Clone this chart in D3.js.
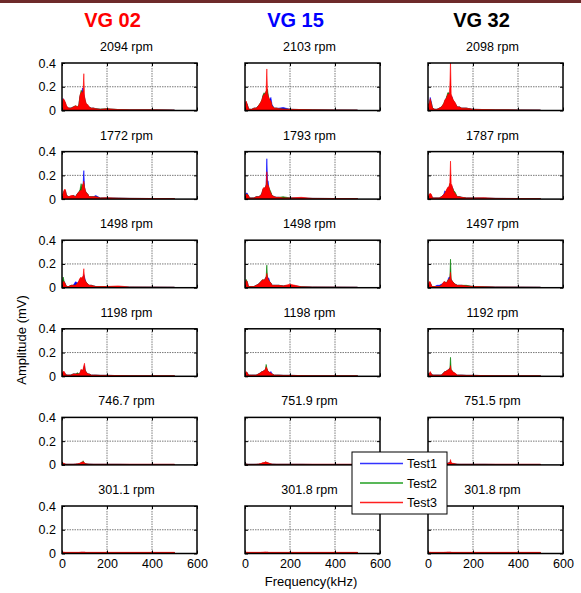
<!DOCTYPE html>
<html><head><meta charset="utf-8">
<script src="https://cdn.jsdelivr.net/npm/d3@7"></script>
<style>body{margin:0;background:#fff}svg{display:block;font-family:"Liberation Sans",Arial,sans-serif}</style>
</head><body>
<script>
// ---------- DATA ----------
const freq = [0,5,10,15,20,30,40,50,60,70,75,80,85,88,91,94,97,100,103,106,110,115,120,130,140,150,170,200,250,300,400,500];
const columns = ["VG 02","VG 15","VG 32"];
const rpmVG02 = ["2094 rpm","1772 rpm","1498 rpm","1198 rpm","746.7 rpm","301.1 rpm"];
const rpmVG15 = ["2103 rpm","1793 rpm","1498 rpm","1198 rpm","751.9 rpm","301.8 rpm"];
const rpmVG32 = ["2098 rpm","1787 rpm","1497 rpm","1192 rpm","751.5 rpm","301.8 rpm"];
const seriesNames = ["Test1","Test2","Test3"];
const xTicks = [0,200,400,600];
const yTicks = [0,0.2,0.4];

// VG 02
const vg02_2094_t1 = [0.03,0.10,0.08,0.06,0.03,0.02,0.02,0.03,0.03,0.03,0.04,0.12,0.14,0.15,0.19,0.15,0.14,0.11,0.08,0.06,0.05,0.04,0.03,0.02,0.02,0.015,0.01,0.012,0.008,0.006,0.006,0.004];
const vg02_2094_t2 = [0.03,0.09,0.08,0.06,0.03,0.02,0.02,0.03,0.04,0.03,0.05,0.12,0.17,0.16,0.15,0.14,0.13,0.11,0.08,0.06,0.05,0.04,0.03,0.02,0.02,0.015,0.012,0.015,0.008,0.006,0.006,0.004];
const vg02_2094_t3 = [0.03,0.10,0.09,0.07,0.04,0.02,0.02,0.03,0.04,0.03,0.05,0.13,0.15,0.16,0.14,0.17,0.31,0.12,0.09,0.07,0.05,0.05,0.03,0.02,0.02,0.015,0.01,0.015,0.008,0.006,0.006,0.004];
const vg02_1772_t1 = [0.04,0.04,0.07,0.07,0.03,0.02,0.02,0.03,0.02,0.05,0.06,0.07,0.08,0.08,0.11,0.13,0.24,0.10,0.07,0.06,0.05,0.04,0.02,0.02,0.02,0.03,0.01,0.01,0.008,0.006,0.005,0.004];
const vg02_1772_t2 = [0.03,0.04,0.07,0.07,0.03,0.02,0.02,0.03,0.02,0.05,0.06,0.08,0.13,0.10,0.11,0.12,0.13,0.10,0.07,0.06,0.05,0.04,0.02,0.02,0.02,0.02,0.01,0.01,0.008,0.006,0.005,0.004];
const vg02_1772_t3 = [0.03,0.05,0.08,0.08,0.03,0.02,0.03,0.03,0.02,0.05,0.06,0.07,0.07,0.08,0.12,0.13,0.15,0.10,0.08,0.06,0.05,0.04,0.02,0.02,0.02,0.02,0.01,0.012,0.008,0.006,0.005,0.004];
const vg02_1498_t1 = [0.03,0.04,0.05,0.03,0.01,0.01,0.02,0.02,0.05,0.04,0.05,0.07,0.08,0.07,0.08,0.09,0.11,0.09,0.07,0.05,0.04,0.03,0.02,0.02,0.015,0.01,0.01,0.01,0.008,0.006,0.005,0.004];
const vg02_1498_t2 = [0.03,0.09,0.05,0.03,0.01,0.01,0.02,0.02,0.02,0.04,0.05,0.07,0.08,0.07,0.08,0.09,0.10,0.07,0.06,0.05,0.04,0.03,0.02,0.02,0.015,0.01,0.01,0.01,0.008,0.006,0.005,0.004];
const vg02_1498_t3 = [0.03,0.05,0.05,0.03,0.01,0.01,0.02,0.02,0.02,0.04,0.06,0.08,0.09,0.07,0.09,0.10,0.16,0.08,0.06,0.05,0.04,0.03,0.02,0.02,0.015,0.01,0.01,0.01,0.015,0.006,0.005,0.004];
const vg02_1198_t1 = [0.02,0.03,0.03,0.02,0.01,0.01,0.01,0.02,0.02,0.02,0.02,0.03,0.05,0.04,0.05,0.05,0.07,0.09,0.05,0.04,0.03,0.02,0.02,0.01,0.01,0.01,0.008,0.008,0.006,0.005,0.004,0.004];
const vg02_1198_t2 = [0.02,0.03,0.03,0.02,0.01,0.01,0.01,0.02,0.02,0.03,0.02,0.03,0.05,0.05,0.05,0.05,0.07,0.08,0.05,0.04,0.03,0.02,0.02,0.01,0.01,0.01,0.008,0.008,0.006,0.005,0.004,0.004];
const vg02_1198_t3 = [0.03,0.04,0.04,0.02,0.01,0.01,0.01,0.02,0.02,0.02,0.02,0.03,0.06,0.05,0.05,0.06,0.09,0.11,0.05,0.04,0.03,0.02,0.02,0.01,0.01,0.01,0.008,0.008,0.006,0.005,0.004,0.004];
const vg02_747_t1 = [0.012,0.012,0.01,0.006,0.005,0.005,0.005,0.005,0.006,0.008,0.01,0.012,0.015,0.018,0.02,0.02,0.018,0.014,0.012,0.01,0.008,0.007,0.006,0.006,0.005,0.005,0.005,0.005,0.005,0.004,0.004,0.004];
const vg02_747_t2 = [0.012,0.012,0.01,0.006,0.005,0.005,0.005,0.005,0.006,0.008,0.01,0.012,0.018,0.02,0.022,0.035,0.02,0.015,0.012,0.01,0.008,0.007,0.006,0.006,0.005,0.005,0.005,0.005,0.005,0.004,0.004,0.004];
const vg02_747_t3 = [0.018,0.016,0.012,0.008,0.006,0.006,0.006,0.006,0.008,0.01,0.012,0.015,0.02,0.025,0.022,0.028,0.022,0.016,0.012,0.01,0.009,0.008,0.007,0.006,0.006,0.006,0.006,0.006,0.006,0.006,0.006,0.006];
const vg02_301_t1 = [0.008,0.008,0.008,0.008,0.008,0.008,0.008,0.008,0.008,0.008,0.008,0.008,0.009,0.009,0.009,0.009,0.009,0.009,0.008,0.008,0.008,0.008,0.008,0.008,0.008,0.008,0.008,0.008,0.008,0.008,0.008,0.008];
const vg02_301_t2 = [0.008,0.008,0.008,0.008,0.008,0.008,0.008,0.008,0.008,0.008,0.008,0.008,0.009,0.009,0.009,0.009,0.009,0.009,0.008,0.008,0.008,0.008,0.008,0.008,0.008,0.008,0.008,0.008,0.008,0.008,0.008,0.008];
const vg02_301_t3 = [0.012,0.012,0.011,0.01,0.01,0.01,0.01,0.01,0.01,0.01,0.01,0.011,0.012,0.012,0.012,0.012,0.012,0.012,0.011,0.01,0.01,0.01,0.01,0.01,0.01,0.01,0.01,0.01,0.01,0.01,0.01,0.01];

// VG 15
const vg15_2103_t1 = [0.03,0.07,0.05,0.02,0.01,0.01,0.02,0.02,0.04,0.06,0.08,0.12,0.14,0.13,0.14,0.15,0.16,0.15,0.12,0.10,0.09,0.11,0.05,0.02,0.02,0.02,0.025,0.01,0.008,0.006,0.005,0.004];
const vg15_2103_t2 = [0.03,0.07,0.05,0.02,0.01,0.01,0.02,0.02,0.04,0.07,0.09,0.13,0.15,0.14,0.15,0.16,0.17,0.18,0.13,0.10,0.08,0.07,0.04,0.02,0.02,0.015,0.012,0.01,0.008,0.006,0.005,0.004];
const vg15_2103_t3 = [0.03,0.08,0.05,0.02,0.01,0.01,0.02,0.02,0.04,0.07,0.09,0.12,0.14,0.13,0.15,0.17,0.35,0.15,0.12,0.11,0.09,0.08,0.04,0.02,0.02,0.015,0.012,0.01,0.008,0.006,0.005,0.004];
const vg15_1793_t1 = [0.03,0.05,0.05,0.03,0.01,0.01,0.01,0.02,0.02,0.03,0.05,0.08,0.09,0.09,0.10,0.12,0.34,0.16,0.15,0.09,0.06,0.05,0.03,0.02,0.015,0.015,0.01,0.01,0.008,0.006,0.005,0.004];
const vg15_1793_t2 = [0.02,0.04,0.04,0.03,0.01,0.01,0.01,0.02,0.02,0.03,0.05,0.08,0.09,0.09,0.10,0.11,0.15,0.12,0.11,0.10,0.08,0.06,0.03,0.02,0.015,0.015,0.02,0.01,0.008,0.006,0.005,0.004];
const vg15_1793_t3 = [0.02,0.04,0.04,0.03,0.01,0.01,0.01,0.02,0.02,0.03,0.05,0.09,0.10,0.09,0.10,0.12,0.23,0.12,0.12,0.10,0.07,0.05,0.03,0.02,0.015,0.015,0.01,0.01,0.015,0.006,0.005,0.004];
const vg15_1498_t1 = [0.03,0.05,0.05,0.01,0.01,0.01,0.01,0.02,0.03,0.05,0.06,0.06,0.06,0.07,0.08,0.09,0.10,0.09,0.08,0.08,0.05,0.04,0.02,0.02,0.02,0.02,0.015,0.02,0.008,0.006,0.005,0.004];
const vg15_1498_t2 = [0.03,0.07,0.05,0.01,0.01,0.01,0.01,0.02,0.03,0.05,0.06,0.07,0.06,0.07,0.08,0.09,0.19,0.08,0.07,0.06,0.05,0.04,0.02,0.02,0.02,0.02,0.015,0.02,0.008,0.006,0.005,0.004];
const vg15_1498_t3 = [0.03,0.06,0.05,0.01,0.01,0.01,0.01,0.02,0.03,0.05,0.06,0.07,0.06,0.07,0.08,0.09,0.12,0.09,0.07,0.06,0.05,0.04,0.02,0.02,0.02,0.02,0.015,0.03,0.008,0.006,0.005,0.004];
const vg15_1198_t1 = [0.02,0.03,0.03,0.01,0.01,0.01,0.01,0.01,0.02,0.03,0.04,0.04,0.05,0.05,0.06,0.07,0.06,0.05,0.04,0.04,0.03,0.04,0.02,0.01,0.01,0.01,0.008,0.008,0.006,0.005,0.004,0.004];
const vg15_1198_t2 = [0.02,0.03,0.03,0.01,0.01,0.01,0.01,0.01,0.02,0.03,0.04,0.04,0.05,0.05,0.06,0.10,0.07,0.05,0.04,0.03,0.03,0.02,0.02,0.01,0.01,0.01,0.008,0.008,0.006,0.005,0.004,0.004];
const vg15_1198_t3 = [0.02,0.04,0.03,0.01,0.01,0.01,0.01,0.01,0.02,0.03,0.04,0.04,0.05,0.05,0.06,0.08,0.07,0.05,0.04,0.04,0.03,0.03,0.02,0.01,0.01,0.01,0.008,0.008,0.006,0.005,0.004,0.004];
const vg15_752_t1 = [0.015,0.008,0.006,0.005,0.005,0.005,0.005,0.005,0.006,0.008,0.01,0.014,0.016,0.018,0.02,0.02,0.018,0.016,0.014,0.012,0.01,0.008,0.006,0.006,0.005,0.005,0.005,0.005,0.005,0.004,0.004,0.004];
const vg15_752_t2 = [0.01,0.008,0.006,0.005,0.005,0.005,0.005,0.005,0.006,0.01,0.012,0.016,0.016,0.02,0.022,0.018,0.02,0.018,0.014,0.014,0.01,0.008,0.006,0.006,0.005,0.005,0.005,0.005,0.005,0.004,0.004,0.004];
const vg15_752_t3 = [0.01,0.008,0.006,0.005,0.005,0.005,0.005,0.006,0.008,0.012,0.015,0.02,0.018,0.022,0.028,0.02,0.025,0.02,0.016,0.018,0.012,0.01,0.007,0.006,0.006,0.006,0.006,0.006,0.006,0.006,0.006,0.006];
const vg15_302_t1 = [0.008,0.008,0.008,0.008,0.008,0.008,0.008,0.008,0.008,0.008,0.008,0.008,0.009,0.009,0.009,0.009,0.009,0.009,0.008,0.008,0.008,0.008,0.008,0.008,0.008,0.008,0.008,0.008,0.008,0.008,0.008,0.008];
const vg15_302_t2 = [0.008,0.008,0.008,0.008,0.008,0.008,0.008,0.008,0.008,0.008,0.008,0.008,0.009,0.009,0.009,0.009,0.009,0.009,0.008,0.008,0.008,0.008,0.008,0.008,0.008,0.008,0.008,0.008,0.008,0.008,0.008,0.008];
const vg15_302_t3 = [0.012,0.011,0.011,0.01,0.01,0.01,0.01,0.01,0.01,0.01,0.011,0.011,0.012,0.012,0.013,0.012,0.012,0.012,0.011,0.01,0.01,0.01,0.01,0.01,0.01,0.01,0.01,0.01,0.01,0.01,0.01,0.01];

// VG 32
const vg32_2098_t1 = [0.05,0.05,0.11,0.07,0.02,0.01,0.01,0.02,0.03,0.05,0.08,0.10,0.12,0.13,0.14,0.15,0.14,0.13,0.12,0.12,0.09,0.07,0.06,0.03,0.03,0.02,0.02,0.01,0.008,0.006,0.005,0.004];
const vg32_2098_t2 = [0.05,0.04,0.09,0.06,0.02,0.01,0.01,0.02,0.03,0.06,0.08,0.10,0.13,0.15,0.15,0.14,0.14,0.13,0.12,0.11,0.09,0.08,0.06,0.03,0.03,0.02,0.02,0.01,0.008,0.006,0.005,0.004];
const vg32_2098_t3 = [0.06,0.05,0.10,0.06,0.02,0.01,0.01,0.02,0.03,0.06,0.09,0.10,0.12,0.14,0.13,0.14,0.20,0.42,0.14,0.12,0.10,0.08,0.07,0.03,0.03,0.02,0.02,0.01,0.008,0.006,0.005,0.004];
const vg32_1787_t1 = [0.02,0.03,0.04,0.03,0.01,0.01,0.01,0.01,0.02,0.04,0.07,0.06,0.08,0.09,0.10,0.10,0.12,0.11,0.12,0.11,0.09,0.05,0.04,0.02,0.02,0.015,0.01,0.01,0.008,0.006,0.005,0.004];
const vg32_1787_t2 = [0.02,0.03,0.04,0.03,0.01,0.01,0.01,0.01,0.02,0.03,0.05,0.06,0.08,0.09,0.09,0.10,0.13,0.12,0.11,0.10,0.09,0.07,0.06,0.02,0.02,0.015,0.01,0.01,0.008,0.006,0.005,0.004];
const vg32_1787_t3 = [0.02,0.04,0.05,0.04,0.01,0.01,0.01,0.01,0.02,0.04,0.05,0.07,0.09,0.10,0.10,0.11,0.14,0.32,0.13,0.12,0.09,0.06,0.05,0.02,0.02,0.015,0.01,0.01,0.012,0.006,0.005,0.004];
const vg32_1497_t1 = [0.02,0.04,0.04,0.02,0.01,0.01,0.02,0.02,0.03,0.04,0.05,0.04,0.05,0.06,0.08,0.09,0.09,0.08,0.07,0.06,0.05,0.04,0.03,0.02,0.02,0.02,0.015,0.01,0.008,0.006,0.005,0.004];
const vg32_1497_t2 = [0.02,0.04,0.04,0.02,0.01,0.01,0.01,0.01,0.02,0.04,0.05,0.04,0.05,0.06,0.07,0.07,0.08,0.24,0.07,0.06,0.05,0.04,0.03,0.02,0.02,0.02,0.02,0.01,0.008,0.006,0.005,0.004];
const vg32_1497_t3 = [0.02,0.05,0.05,0.02,0.01,0.01,0.01,0.01,0.02,0.05,0.05,0.04,0.05,0.06,0.07,0.07,0.08,0.13,0.07,0.06,0.05,0.04,0.03,0.02,0.02,0.02,0.015,0.01,0.008,0.006,0.005,0.004];
const vg32_1192_t1 = [0.01,0.02,0.03,0.02,0.01,0.01,0.01,0.01,0.01,0.03,0.04,0.04,0.05,0.05,0.05,0.06,0.07,0.06,0.05,0.04,0.04,0.03,0.02,0.01,0.01,0.01,0.008,0.008,0.006,0.005,0.004,0.004];
const vg32_1192_t2 = [0.01,0.02,0.03,0.02,0.01,0.01,0.01,0.01,0.01,0.03,0.04,0.04,0.05,0.05,0.05,0.06,0.06,0.16,0.05,0.05,0.04,0.03,0.02,0.01,0.01,0.01,0.008,0.008,0.006,0.005,0.004,0.004];
const vg32_1192_t3 = [0.01,0.02,0.04,0.02,0.01,0.01,0.01,0.01,0.01,0.03,0.04,0.04,0.05,0.05,0.06,0.06,0.06,0.09,0.05,0.05,0.04,0.03,0.03,0.01,0.01,0.01,0.008,0.008,0.006,0.005,0.004,0.004];
const vg32_752_t1 = [0.01,0.008,0.007,0.005,0.005,0.005,0.005,0.005,0.006,0.007,0.008,0.01,0.012,0.013,0.015,0.022,0.016,0.02,0.015,0.012,0.01,0.01,0.008,0.006,0.005,0.005,0.005,0.005,0.005,0.004,0.004,0.004];
const vg32_752_t2 = [0.01,0.008,0.007,0.005,0.005,0.005,0.005,0.005,0.006,0.007,0.008,0.01,0.012,0.013,0.014,0.016,0.018,0.03,0.016,0.012,0.01,0.01,0.008,0.006,0.005,0.005,0.005,0.005,0.005,0.004,0.004,0.004];
const vg32_752_t3 = [0.012,0.01,0.008,0.006,0.005,0.005,0.005,0.005,0.006,0.008,0.01,0.012,0.014,0.015,0.016,0.018,0.02,0.045,0.02,0.015,0.014,0.012,0.01,0.006,0.006,0.006,0.006,0.006,0.006,0.006,0.006,0.006];
const vg32_302_t1 = [0.008,0.008,0.008,0.008,0.008,0.008,0.008,0.008,0.008,0.008,0.008,0.008,0.009,0.009,0.009,0.009,0.009,0.009,0.008,0.008,0.008,0.008,0.008,0.008,0.008,0.008,0.008,0.008,0.008,0.008,0.008,0.008];
const vg32_302_t2 = [0.008,0.008,0.008,0.008,0.008,0.008,0.008,0.008,0.008,0.008,0.008,0.008,0.009,0.009,0.009,0.009,0.009,0.009,0.008,0.008,0.008,0.008,0.008,0.008,0.008,0.008,0.008,0.008,0.008,0.008,0.008,0.008];
const vg32_302_t3 = [0.012,0.011,0.011,0.01,0.01,0.01,0.01,0.01,0.01,0.01,0.011,0.011,0.012,0.012,0.012,0.013,0.012,0.012,0.011,0.01,0.01,0.01,0.01,0.01,0.01,0.01,0.01,0.01,0.01,0.01,0.01,0.01];

// ---------- ASSEMBLY ----------
const panelData = [
  [[vg02_2094_t1,vg02_2094_t2,vg02_2094_t3],[vg02_1772_t1,vg02_1772_t2,vg02_1772_t3],[vg02_1498_t1,vg02_1498_t2,vg02_1498_t3],[vg02_1198_t1,vg02_1198_t2,vg02_1198_t3],[vg02_747_t1,vg02_747_t2,vg02_747_t3],[vg02_301_t1,vg02_301_t2,vg02_301_t3]],
  [[vg15_2103_t1,vg15_2103_t2,vg15_2103_t3],[vg15_1793_t1,vg15_1793_t2,vg15_1793_t3],[vg15_1498_t1,vg15_1498_t2,vg15_1498_t3],[vg15_1198_t1,vg15_1198_t2,vg15_1198_t3],[vg15_752_t1,vg15_752_t2,vg15_752_t3],[vg15_302_t1,vg15_302_t2,vg15_302_t3]],
  [[vg32_2098_t1,vg32_2098_t2,vg32_2098_t3],[vg32_1787_t1,vg32_1787_t2,vg32_1787_t3],[vg32_1497_t1,vg32_1497_t2,vg32_1497_t3],[vg32_1192_t1,vg32_1192_t2,vg32_1192_t3],[vg32_752_t1,vg32_752_t2,vg32_752_t3],[vg32_302_t1,vg32_302_t2,vg32_302_t3]]
];
const rpmLabels = [rpmVG02, rpmVG15, rpmVG32];
const colTitleColors = ["#ff0000","#0000ff","#000000"];
const seriesColors = ["#0000ff","#008000","#ff0000"];
const legendColors = ["#3333ff","#22a022","#ff2020"];

// ---------- LAYOUT ----------
const W = 581, H = 593;
const colX = [62, 245, 428], pw = 135;
const rowTop0 = 63, rowStep = 88.6, ph = 47.5;
const font = '"Liberation Sans", Arial, sans-serif';

const svg = d3.select("body").append("svg").attr("width", W).attr("height", H);
svg.append("rect").attr("width", W).attr("height", H).attr("fill", "#fff");
svg.append("rect").attr("x", 0).attr("y", 0).attr("width", W).attr("height", 3).attr("fill", "#6e2a2a");

// column titles
columns.forEach((c, ci) => {
  svg.append("text").attr("x", colX[ci] + pw/2 - 17 + (ci===2?3:0)).attr("y", 27)
    .attr("text-anchor", "middle").attr("font-size", 20).attr("font-weight", "bold")
    .attr("fill", colTitleColors[ci]).text(c);
});

const defs = svg.append("defs");

panelData.forEach((col, ci) => {
  col.forEach((series, ri) => {
    const x0 = colX[ci], y0 = rowTop0 + ri * rowStep;
    const x = d3.scaleLinear().domain([0, 600]).range([x0, x0 + pw]);
    const y = d3.scaleLinear().domain([0, 0.4]).range([y0 + ph, y0]);
    const g = svg.append("g");
    const cid = `clip${ci}_${ri}`;
    defs.append("clipPath").attr("id", cid).append("rect")
      .attr("x", x0).attr("y", y0).attr("width", pw).attr("height", ph);

    // grid
    const grid = g.append("g").attr("stroke", "#7a7a7a").attr("stroke-width", 1).attr("stroke-dasharray", "1.5,1");
    xTicks.filter(t => t > 0 && t < 600).forEach(t => {
      grid.append("line").attr("x1", x(t)).attr("x2", x(t)).attr("y1", y0).attr("y2", y0 + ph);
    });
    yTicks.filter(t => t > 0 && t < 0.4).forEach(t => {
      grid.append("line").attr("x1", x0).attr("x2", x0 + pw).attr("y1", y(t)).attr("y2", y(t));
    });

    // areas
    const area = d3.area().x((d, i) => x(freq[i])).y0(y(0)).y1(d => y(d)).curve(d3.curveLinear);
    const ag = g.append("g").attr("clip-path", `url(#${cid})`);
    series.forEach((vals, si) => {
      ag.append("path").attr("d", area(vals)).attr("fill", seriesColors[si])
        .attr("stroke", seriesColors[si]).attr("stroke-width", 0.6);
    });

    // axes (ticks inward)
    const isBottom = ri === col.length - 1;
    const ax = d3.axisBottom(x).tickValues(xTicks).tickSize(-3).tickPadding(6)
      .tickFormat(isBottom ? d3.format("d") : () => "");
    const axg = g.append("g").attr("transform", `translate(0,${y0 + ph})`).call(ax);
    const axTop = d3.axisTop(x).tickValues(xTicks).tickSize(-3).tickFormat(() => "");
    const axtg = g.append("g").attr("transform", `translate(0,${y0})`).call(axTop);
    const ay = d3.axisLeft(y).tickValues(yTicks).tickSize(-3).tickPadding(6)
      .tickFormat(ci === 0 ? (d => d === 0 ? "0" : d3.format(".1f")(d)) : () => "");
    const ayg = g.append("g").attr("transform", `translate(${x0},0)`).call(ay);
    const ayR = d3.axisRight(y).tickValues(yTicks).tickSize(-3).tickFormat(() => "");
    const ayrg = g.append("g").attr("transform", `translate(${x0 + pw},0)`).call(ayR);
    [axg, axtg, ayg, ayrg].forEach(a => {
      a.select(".domain").remove();
      a.selectAll(".tick line").attr("stroke", "#000").attr("stroke-width", 1);
      a.selectAll("text").attr("font-family", font).attr("font-size", 12.5).attr("fill", "#000");
    });

    // box
    g.append("rect").attr("x", x0).attr("y", y0).attr("width", pw).attr("height", ph)
      .attr("fill", "none").attr("stroke", "#000").attr("stroke-width", 1.5);

    // rpm title
    svg.append("text").attr("x", x0 + pw/2 - 3).attr("y", y0 - 12).attr("text-anchor", "middle")
      .attr("font-family", font).attr("font-size", 12.5).text(rpmLabels[ci][ri]);
  });
});

// axis labels
svg.append("text").attr("transform", "translate(26,340) rotate(-90)").attr("text-anchor", "middle")
  .attr("font-family", font).attr("font-size", 13).text("Amplitude (mV)");
svg.append("text").attr("x", 311).attr("y", 586).attr("text-anchor", "middle")
  .attr("font-family", font).attr("font-size", 13).text("Frequency(kHz)");

// legend
const lg = svg.append("g");
lg.append("rect").attr("x", 352).attr("y", 452).attr("width", 95).attr("height", 62)
  .attr("fill", "#fff").attr("stroke", "#000").attr("stroke-width", 1);
seriesNames.forEach((n, i) => {
  const ly = 463.5 + i * 19.5;
  lg.append("line").attr("x1", 360).attr("x2", 403).attr("y1", ly).attr("y2", ly)
    .attr("stroke", legendColors[i]).attr("stroke-width", 1.4);
  lg.append("text").attr("x", 407).attr("y", ly + 4.5).attr("font-family", font).attr("font-size", 12.5).text(n);
});
</script>
</body></html>
